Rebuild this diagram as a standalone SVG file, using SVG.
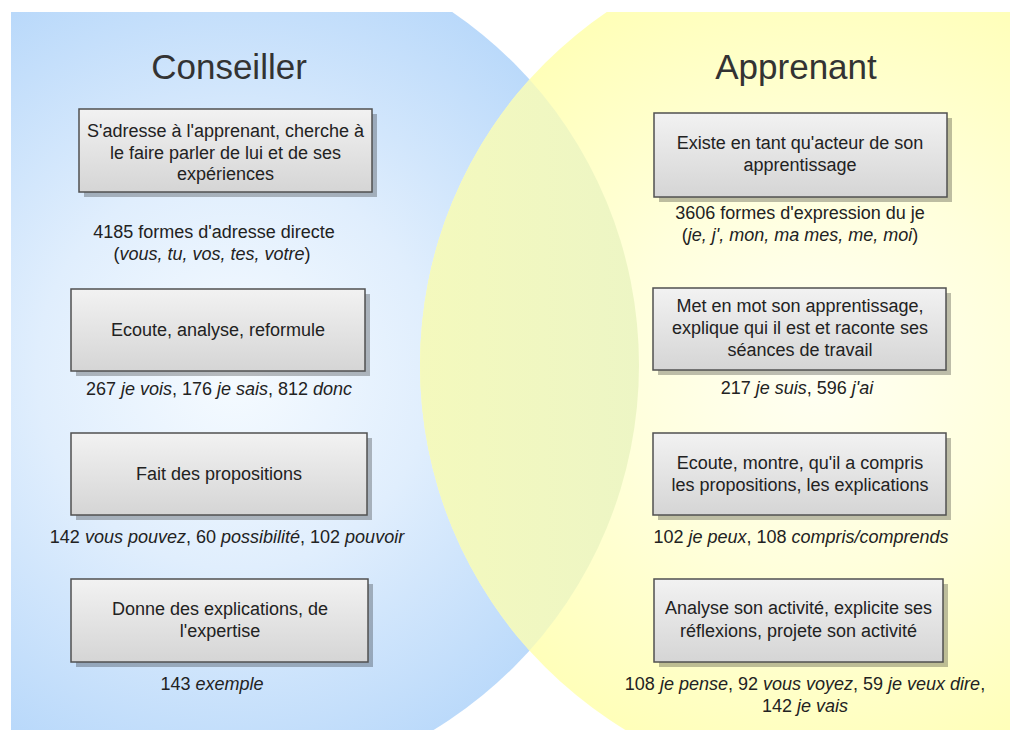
<svg xmlns="http://www.w3.org/2000/svg" width="1010" height="733" viewBox="0 0 1010 733">
  <defs>
    <radialGradient id="gBlue" gradientUnits="userSpaceOnUse" cx="235" cy="370" r="440">
      <stop offset="0" stop-color="#f6fbff"/>
      <stop offset="0.45" stop-color="#e0eefd"/>
      <stop offset="1" stop-color="#b6d7fa"/>
    </radialGradient>
    <radialGradient id="gYellow" gradientUnits="userSpaceOnUse" cx="820" cy="370" r="440">
      <stop offset="0" stop-color="#fffff4"/>
      <stop offset="0.45" stop-color="#ffffdc"/>
      <stop offset="1" stop-color="#ffffb4"/>
    </radialGradient>
    <linearGradient id="gLens" x1="0" y1="0" x2="1" y2="0">
      <stop offset="0" stop-color="#f4f9bd"/>
      <stop offset="0.5" stop-color="#e6f2cc"/>
      <stop offset="1" stop-color="#d0e8da"/>
    </linearGradient>
    <linearGradient id="gBox" x1="0" y1="0" x2="0" y2="1">
      <stop offset="0" stop-color="#f2f2f2"/>
      <stop offset="1" stop-color="#d5d5d5"/>
    </linearGradient>
    <clipPath id="clipArea">
      <rect x="11" y="12" width="1010" height="718"/>
    </clipPath>
    <clipPath id="clipBlue">
      <circle cx="212" cy="365" r="427"/>
    </clipPath>
  </defs>
  <style>
    .box { fill: url(#gBox); stroke: #505050; stroke-width: 1.5; }
    .shadow { fill: #000; fill-opacity: 0.26; }
    .t { font-family: "Liberation Sans", Arial, sans-serif; font-size: 18px; fill: #222; text-anchor: middle; }
    .title { font-family: "Liberation Sans", Arial, sans-serif; font-size: 35px; fill: #333; text-anchor: middle; }
    .i { font-style: italic; }
  </style>

  <g id="background" clip-path="url(#clipArea)">
    <circle cx="212" cy="365" r="427" fill="url(#gBlue)"/>
    <circle cx="847" cy="365" r="427" fill="url(#gYellow)"/>
    <g clip-path="url(#clipBlue)">
      <circle cx="847" cy="365" r="427" fill="url(#gLens)"/>
    </g>
  </g>

  <g id="title-conseiller"><text class="title" x="229" y="79">Conseiller</text></g>
  <g id="title-apprenant"><text class="title" x="796" y="79">Apprenant</text></g>

  <g id="c1">
    <rect class="shadow" x="84" y="114" width="293" height="83"/>
    <rect class="box" x="79" y="109" width="293" height="83"/>
    <text class="t" x="225.5" y="137">S'adresse à l'apprenant, cherche à</text>
    <text class="t" x="225.5" y="158.5">le faire parler de lui et de ses</text>
    <text class="t" x="225.5" y="180">expériences</text>
  </g>
  <g id="c1-label">
    <text class="t" x="214" y="238">4185 formes d'adresse directe</text>
    <text class="t" x="212" y="260">(<tspan class="i">vous, tu, vos, tes, votre</tspan>)</text>
  </g>

  <g id="c2">
    <rect class="shadow" x="76" y="294" width="294" height="82"/>
    <rect class="box" x="71" y="289" width="294" height="82"/>
    <text class="t" x="218" y="336">Ecoute, analyse, reformule</text>
  </g>
  <g id="c2-label">
    <text class="t" x="219" y="395">267 <tspan class="i">je vois</tspan>, 176 <tspan class="i">je sais</tspan>, 812 <tspan class="i">donc</tspan></text>
  </g>

  <g id="c3">
    <rect class="shadow" x="76" y="438" width="296" height="82"/>
    <rect class="box" x="71" y="433" width="296" height="82"/>
    <text class="t" x="219" y="480">Fait des propositions</text>
  </g>
  <g id="c3-label">
    <text class="t" x="227" y="543">142 <tspan class="i">vous pouvez</tspan>, 60 <tspan class="i">possibilité</tspan>, 102 <tspan class="i">pouvoir</tspan></text>
  </g>

  <g id="c4">
    <rect class="shadow" x="76" y="584" width="297" height="83"/>
    <rect class="box" x="71" y="579" width="297" height="83"/>
    <text class="t" x="220" y="615">Donne des explications, de</text>
    <text class="t" x="220" y="637">l'expertise</text>
  </g>
  <g id="c4-label">
    <text class="t" x="212" y="690">143 <tspan class="i">exemple</tspan></text>
  </g>

  <g id="a1">
    <rect class="shadow" x="659" y="118" width="293" height="84"/>
    <rect class="box" x="654" y="113" width="293" height="84"/>
    <text class="t" x="800" y="149">Existe en tant qu'acteur de son</text>
    <text class="t" x="800" y="171">apprentissage</text>
  </g>
  <g id="a1-label">
    <text class="t" x="800" y="219">3606 formes d'expression du je</text>
    <text class="t" x="800" y="241">(<tspan class="i">je, j', mon, ma mes, me, moi</tspan>)</text>
  </g>

  <g id="a2">
    <rect class="shadow" x="658" y="293" width="293" height="82"/>
    <rect class="box" x="653" y="288" width="293" height="82"/>
    <text class="t" x="800" y="312">Met en mot son apprentissage,</text>
    <text class="t" x="800" y="334">explique qui il est et raconte ses</text>
    <text class="t" x="800" y="356">séances de travail</text>
  </g>
  <g id="a2-label">
    <text class="t" x="797" y="394">217 <tspan class="i">je suis</tspan>, 596 <tspan class="i">j'ai</tspan></text>
  </g>

  <g id="a3">
    <rect class="shadow" x="658" y="438" width="293" height="82"/>
    <rect class="box" x="653" y="433" width="293" height="82"/>
    <text class="t" x="800" y="469">Ecoute, montre, qu'il a compris</text>
    <text class="t" x="800" y="491">les propositions, les explications</text>
  </g>
  <g id="a3-label">
    <text class="t" x="801" y="543">102 <tspan class="i">je peux</tspan>, 108 <tspan class="i">compris/comprends</tspan></text>
  </g>

  <g id="a4">
    <rect class="shadow" x="659" y="584" width="289" height="83"/>
    <rect class="box" x="654" y="579" width="289" height="83"/>
    <text class="t" x="798.5" y="614">Analyse son activité, explicite ses</text>
    <text class="t" x="798.5" y="637">réflexions, projete son activité</text>
  </g>
  <g id="a4-label">
    <text class="t" x="805" y="690">108 <tspan class="i">je pense</tspan>, 92 <tspan class="i">vous voyez</tspan>, 59 <tspan class="i">je veux dire</tspan>,</text>
    <text class="t" x="805" y="712">142 <tspan class="i">je vais</tspan></text>
  </g>

  <g id="connectors"></g>
</svg>
